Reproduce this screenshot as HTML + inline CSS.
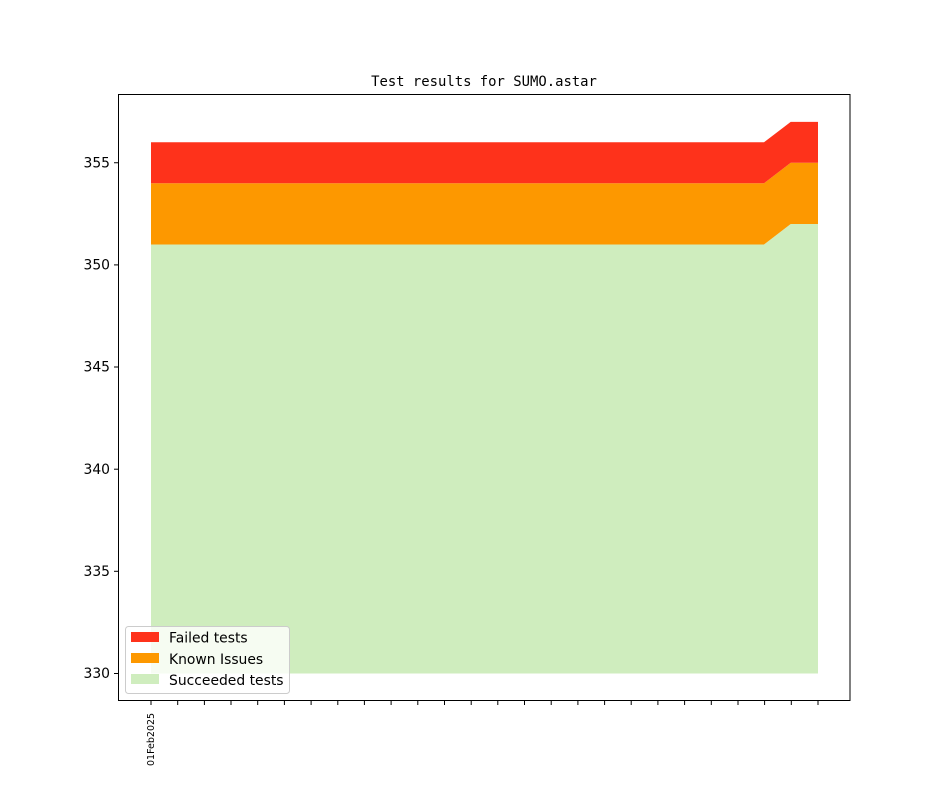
<!DOCTYPE html>
<html><head><style>body{margin:0;background:#fff}</style></head><body>
<svg width="944" height="787" xmlns="http://www.w3.org/2000/svg" font-family="DejaVu Sans, sans-serif">
<rect width="944" height="787" fill="#fff"/>
<text x="484" y="86" font-size="13.9" text-anchor="middle" font-family="DejaVu Sans Mono, Liberation Mono, monospace">Test results for SUMO.astar</text>
<polygon points="151,673.5 151,244.5 764,244.5 790.7,224 818,224 818,673.5" fill="#cfedbe"/>
<polygon points="151,244.5 151,183.2 764,183.2 790.7,162.75 818,162.75 818,224 790.7,224 764,244.5" fill="#fd9800"/>
<polygon points="151,183.2 151,142.3 764,142.3 790.7,121.9 818,121.9 818,162.75 790.7,162.75 764,183.2" fill="#fe321b"/>
<rect x="118.5" y="94.5" width="731.5" height="606" fill="none" stroke="#000" stroke-width="1"/>
<g stroke="#000" stroke-width="1">
<line x1="118" y1="162.75" x2="114" y2="162.75"/><line x1="118" y1="264.9" x2="114" y2="264.9"/><line x1="118" y1="367" x2="114" y2="367"/><line x1="118" y1="469.2" x2="114" y2="469.2"/><line x1="118" y1="571.3" x2="114" y2="571.3"/><line x1="118" y1="673.5" x2="114" y2="673.5"/>
</g>
<g font-size="13.9" text-anchor="end">
<text x="110" y="167.5">355</text><text x="110" y="269.5">350</text><text x="110" y="371.5">345</text><text x="110" y="474">340</text><text x="110" y="576">335</text><text x="110" y="678">330</text>
</g>
<text transform="translate(154,766) rotate(-90)" font-size="9.5">01Feb2025</text>
<rect x="125.5" y="626.5" width="164" height="67" rx="3" fill="#fff" fill-opacity="0.8" stroke="#ccc"/>
<rect x="131" y="632" width="28" height="10" fill="#fe321b"/>
<rect x="131" y="653" width="28" height="10" fill="#fd9800"/>
<rect x="131" y="674" width="28" height="10" fill="#cfedbe"/>
<g font-size="13.9">
<text x="169" y="642.5">Failed tests</text>
<text x="169" y="664">Known Issues</text>
<text x="169" y="685">Succeeded tests</text>
</g>
<g stroke="#000">
<line x1="151.0" y1="700" x2="151.0" y2="705"/><line x1="177.7" y1="700" x2="177.7" y2="705"/><line x1="204.4" y1="700" x2="204.4" y2="705"/><line x1="231.0" y1="700" x2="231.0" y2="705"/><line x1="257.7" y1="700" x2="257.7" y2="705"/><line x1="284.4" y1="700" x2="284.4" y2="705"/><line x1="311.1" y1="700" x2="311.1" y2="705"/><line x1="337.8" y1="700" x2="337.8" y2="705"/><line x1="364.4" y1="700" x2="364.4" y2="705"/><line x1="391.1" y1="700" x2="391.1" y2="705"/><line x1="417.8" y1="700" x2="417.8" y2="705"/><line x1="444.5" y1="700" x2="444.5" y2="705"/><line x1="471.2" y1="700" x2="471.2" y2="705"/><line x1="497.8" y1="700" x2="497.8" y2="705"/><line x1="524.5" y1="700" x2="524.5" y2="705"/><line x1="551.2" y1="700" x2="551.2" y2="705"/><line x1="577.9" y1="700" x2="577.9" y2="705"/><line x1="604.6" y1="700" x2="604.6" y2="705"/><line x1="631.2" y1="700" x2="631.2" y2="705"/><line x1="657.9" y1="700" x2="657.9" y2="705"/><line x1="684.6" y1="700" x2="684.6" y2="705"/><line x1="711.3" y1="700" x2="711.3" y2="705"/><line x1="738.0" y1="700" x2="738.0" y2="705"/><line x1="764.6" y1="700" x2="764.6" y2="705"/><line x1="791.3" y1="700" x2="791.3" y2="705"/><line x1="818.0" y1="700" x2="818.0" y2="705"/>
</g>
</svg>
</body></html>
